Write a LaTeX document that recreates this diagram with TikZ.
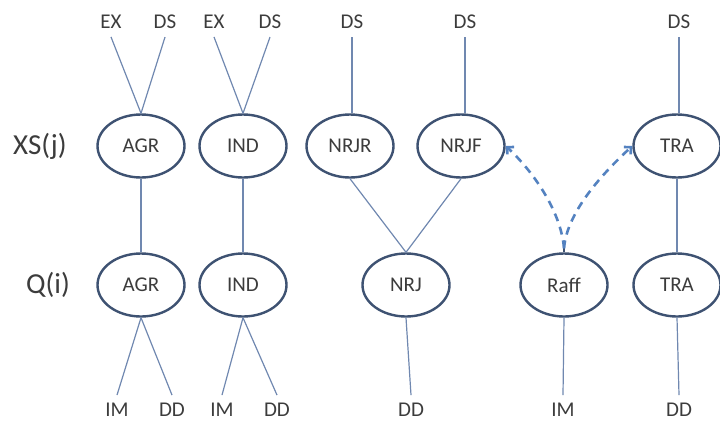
\documentclass[tikz,border=0pt]{standalone}
\usepackage{fontspec}
\setmainfont{Carlito}
\usetikzlibrary{shapes.geometric,arrows.meta}
\definecolor{ringblue}{HTML}{3E5272}
\definecolor{wireblue}{HTML}{7088B0}
\definecolor{dashblue}{HTML}{5482C0}
\definecolor{inkgray}{HTML}{3C3C3C}
\begin{document}
\begin{tikzpicture}
[
    x=1pt, y=-1pt,
    sector/.style={shape=ellipse, draw=ringblue, line width=2.4pt, minimum width=87pt, minimum height=63pt, inner sep=0pt, text=inkgray, font=\fontsize{21}{21}\selectfont},
    flow/.style={inner sep=8pt, text=inkgray, font=\fontsize{21}{21}\selectfont},
    rowname/.style={text=inkgray, font=\fontsize{29}{29}\selectfont},
    wire/.style={draw=wireblue, line width=1.2pt},
    link/.style={draw=dashblue, line width=2.6pt, dash pattern=on 8pt off 6pt, -{Straight Barb[length=5pt,width=10pt]}},
]
\useasboundingbox (0,0) rectangle (720,421);
% row names
\node[rowname] (xsrow) at (40,146) {XS(j)};
\node[rowname] (qrow) at (48,285) {Q(i)};
% XS(j) row
\node[sector] (agrxs) at (141,146) {AGR};
\node[sector] (indxs) at (243,146) {IND};
\node[sector] (nrjr) at (350,146) {NRJR};
\node[sector] (nrjf) at (461,146) {NRJF};
\node[sector] (traxs) at (677,146) {TRA};
% Q(i) row
\node[sector] (agrq) at (141,285) {AGR};
\node[sector] (indq) at (243,285) {IND};
\node[sector] (nrj) at (406,285) {NRJ};
\node[sector] (raff) at (564,285) {Raff};
\node[sector] (traq) at (677,285) {TRA};
% top labels
\node[flow] (exagr) at (111,22) {EX};
\node[flow] (dsagr) at (165,22) {DS};
\node[flow] (exind) at (214,22) {EX};
\node[flow] (dsind) at (270,22) {DS};
\node[flow] (dsnrjr) at (352,22) {DS};
\node[flow] (dsnrjf) at (465,22) {DS};
\node[flow] (dstra) at (679,22) {DS};
% bottom labels
\node[flow] (imagr) at (117,410) {IM};
\node[flow] (ddagr) at (172,410) {DD};
\node[flow] (imind) at (222,410) {IM};
\node[flow] (ddind) at (277,410) {DD};
\node[flow] (ddnrj) at (411,410) {DD};
\node[flow] (imraff) at (563,410) {IM};
\node[flow] (ddtra) at (679,410) {DD};

\draw[wire] (exagr.south) -- (agrxs.north);
\draw[wire] (dsagr.south) -- (agrxs.north);
\draw[wire] (exind.south) -- (indxs.north);
\draw[wire] (dsind.south) -- (indxs.north);
\draw[wire] (dsnrjr.south) -- (dsnrjr.south |- nrjr.north);
\draw[wire] (dsnrjf.south) -- (dsnrjf.south |- nrjf.north);
\draw[wire] (dstra.south) -- (dstra.south |- traxs.north);

\draw[wire] (agrxs.south) -- (agrq.north);
\draw[wire] (indxs.south) -- (indq.north);
\draw[wire] (nrjr.south) -- (nrj.north);
\draw[wire] (nrjf.south) -- (nrj.north);
\draw[wire] (traxs.south) -- (traq.north);

\draw[wire] (agrq.south) -- (imagr.north);
\draw[wire] (agrq.south) -- (ddagr.north);
\draw[wire] (indq.south) -- (imind.north);
\draw[wire] (indq.south) -- (ddind.north);
\draw[wire] (nrj.south) -- (ddnrj.north);
\draw[wire] (raff.south) -- (imraff.north);
\draw[wire] (traq.south) -- (ddtra.north);

% feedback from Raff
\draw[wire, draw=ringblue, line width=1.6pt] (raff.north) -- ++(0,-8) coordinate (fork);
\draw[link] ([yshift=-4pt]fork) .. controls +(-3,-38) and +(26,24) .. (nrjf.east);
\draw[link] ([yshift=-4pt]fork) .. controls +(3,-38) and +(-26,24) .. (traxs.west);
\end{tikzpicture}
\end{document}
